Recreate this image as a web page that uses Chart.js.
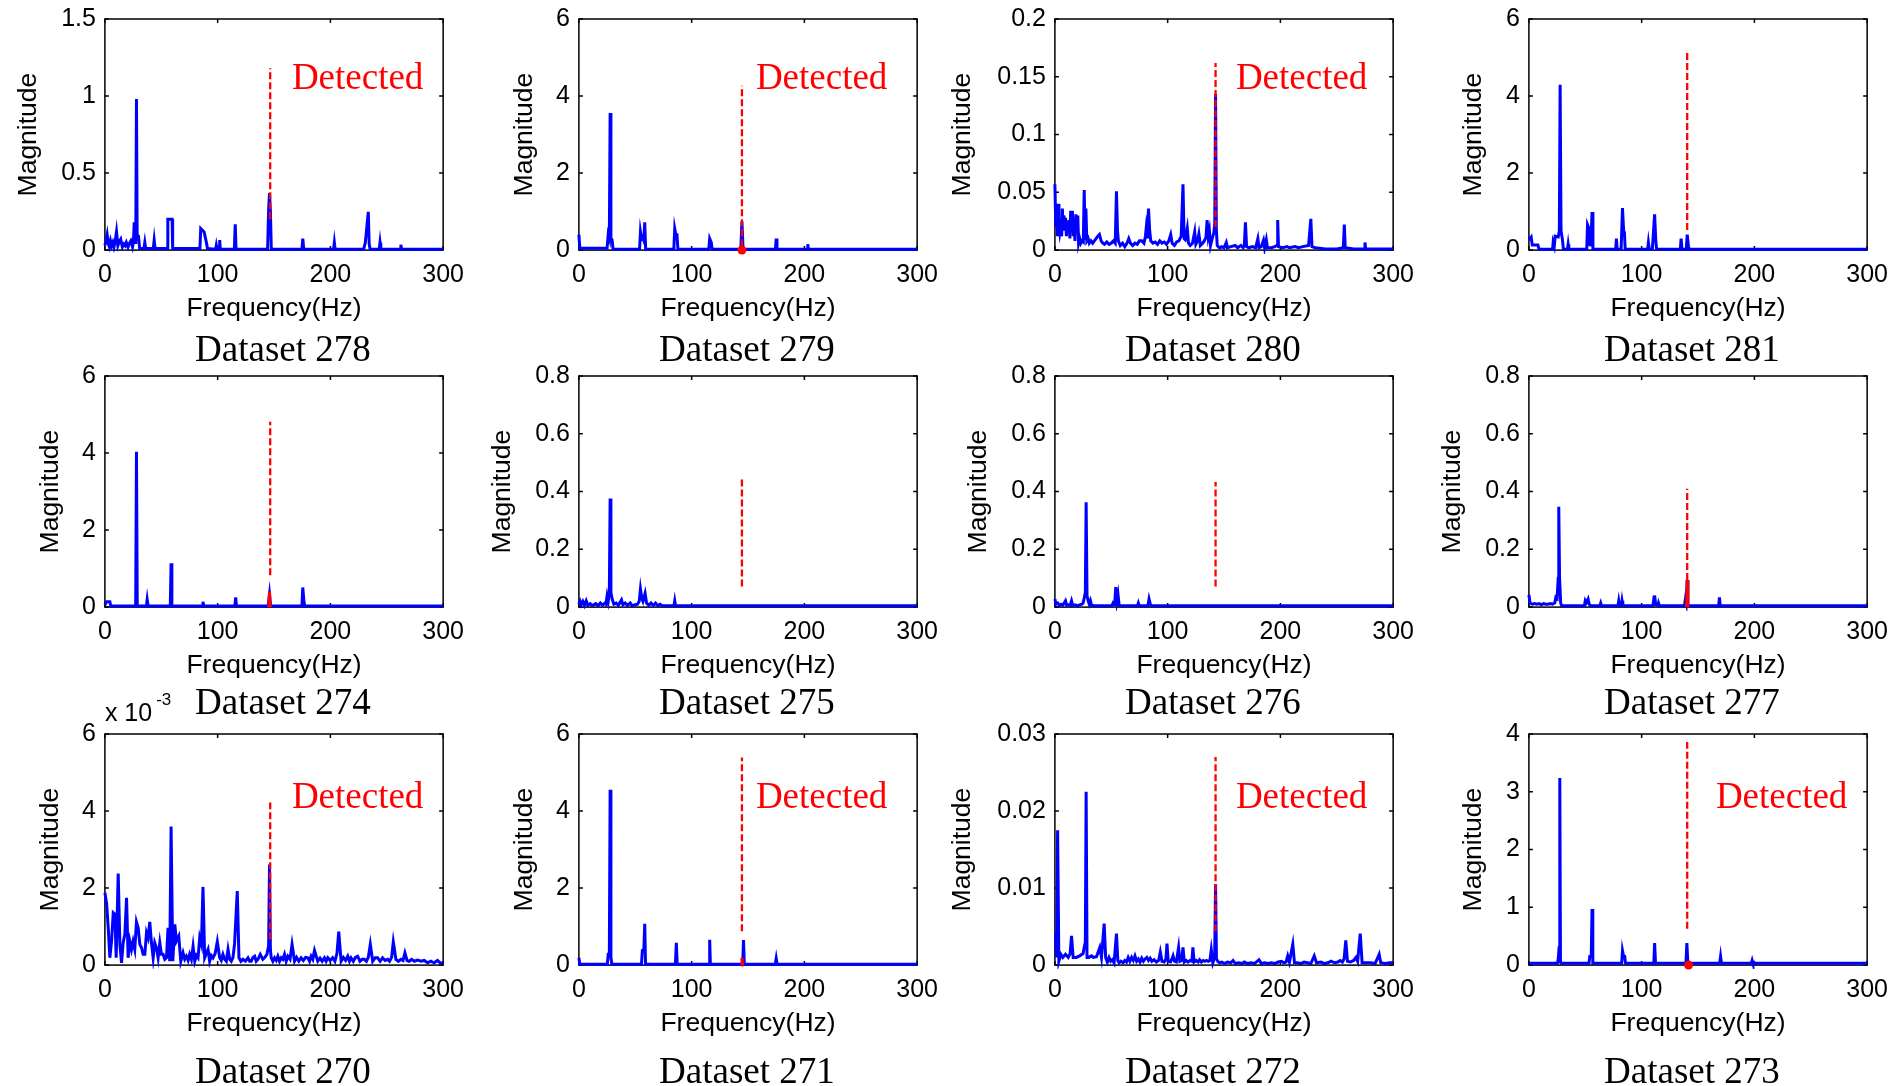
<!DOCTYPE html>
<html>
<head>
<meta charset="utf-8">
<script src="https://cdn.jsdelivr.net/npm/chart.js@4.4.1/dist/chart.umd.min.js"></script>
<style>
  html, body { margin: 0; padding: 0; background: #fff; width: 1895px; height: 1086px; overflow: hidden; }
  canvas { position: absolute; }
</style>
</head>
<body>
<script>
// ---------- spectra: [frequency (Hz), magnitude] ----------
const spec278 = [[0,0.03],[1,0.06],[2,0.1],[3,0.04],[4,0.02],[5,0.06],[6,0.03],[7,0.05],[8,0.02],[9,0.05],[10.3,0.12],[11.5,0.03],[12.5,0.05],[14,0.07],[15.5,0.02],[17,0.04],[18,0.03],[19,0.05],[20.5,0.02],[21.5,0.04],[23,0.06],[24.5,0.02],[25.3,0.05],[26,0.18],[26.8,0.05],[27.4,0.1],[28,0.98],[28.6,0.1],[29.8,0.09],[30.8,0.01],[34.6,0.01],[35.4,0.05],[36.2,0.01],[42.9,0.01],[43.7,0.065],[44.5,0.01],[55.3,0.01],[55.8,0.2],[59.6,0.2],[60.1,0.01],[84.3,0.01],[85,0.14],[88,0.118],[90,0.05],[91,0.01],[98.2,0.005],[98.8,0.03],[99.4,0.005],[101.2,0.005],[101.8,0.065],[102.4,0.005],[114.8,0.005],[115.6,0.168],[116.3,0.005],[144.3,0.005],[145.2,0.26],[146,0.37],[146.8,0.25],[147.6,0.005],[174.8,0.005],[175.5,0.075],[176.4,0.005],[202.8,0.005],[203.5,0.05],[204.2,0.005],[229.5,0.005],[231,0.05],[233.6,0.248],[234.4,0.04],[235.2,0.005],[243.3,0.005],[244,0.05],[244.7,0.005],[261.8,0.005],[262.5,0.035],[263.2,0.005],[300,0.005]];
const spec279 = [[0,0.4],[0.8,0.05],[25,0.05],[26,0.4],[27,0.3],[27.7,3.56],[28.4,0.3],[29.5,0.26],[30.3,0.02],[53.8,0.02],[54.6,0.47],[55.5,0.3],[56.3,0.34],[57.5,0.25],[58.4,0.72],[59.2,0.02],[84.2,0.02],[85,0.56],[86,0.4],[87,0.4],[87.8,0.02],[115.2,0.02],[116,0.3],[117.4,0.2],[118.2,0.02],[143.6,0.02],[144.6,0.75],[145.6,0.02],[174.3,0.02],[175,0.3],[175.7,0.02],[202.4,0.02],[203,0.15],[203.6,0.02],[300,0.02]];
const spec280 = [[0,0.057],[0.8,0.02],[1.5,0.03],[2.2,0.012],[3,0.04],[3.6,0.022],[4.4,0.015],[5.2,0.02],[6,0.012],[6.6,0.036],[7.3,0.018],[8,0.03],[8.8,0.02],[9.5,0.028],[10.2,0.012],[11,0.025],[11.8,0.015],[12.6,0.026],[13.3,0.01],[14,0.034],[14.8,0.022],[15.5,0.034],[16.3,0.012],[17,0.027],[17.8,0.008],[18.6,0.031],[19.5,0.02],[20.3,0.03],[21,0.006],[22,0.01],[23,0.006],[24,0.008],[25.2,0.007],[26,0.052],[26.8,0.01],[27.5,0.036],[28.3,0.008],[29.5,0.01],[30.5,0.006],[32,0.008],[33.5,0.006],[35,0.008],[36.5,0.01],[38,0.012],[39.5,0.0135],[41,0.008],[42.5,0.006],[44,0.005],[46,0.007],[48,0.005],[50,0.006],[52,0.008],[53.5,0.006],[54.6,0.051],[55.5,0.017],[56.3,0.008],[58,0.004],[60,0.006],[62,0.003],[64,0.006],[65.5,0.01],[67,0.006],[69,0.004],[71,0.006],[73,0.005],[75,0.008],[77,0.008],[79,0.006],[80.3,0.012],[81,0.019],[82,0.01],[83,0.036],[84,0.018],[85,0.008],[87,0.006],[89,0.007],[91,0.005],[93,0.008],[95,0.006],[97,0.007],[99,0.005],[101,0.008],[102.7,0.0135],[104,0.006],[106,0.004],[108,0.007],[110,0.008],[112,0.012],[113.6,0.057],[114.6,0.01],[115.6,0.009],[117.4,0.019],[118.5,0.006],[120,0.004],[122,0.006],[124,0.016],[125,0.005],[126.5,0.008],[127.7,0.014],[129,0.004],[131,0.006],[132.5,0.008],[134,0.011],[135,0.026],[136,0.012],[137,0.017],[138,0.004],[139.5,0.01],[141,0.015],[141.8,0.023],[142.5,0.135],[143.2,0.017],[144,0.004],[146,0.002],[148,0.003],[150,0.002],[152,0.0066],[153,0.002],[156,0.003],[160,0.004],[162,0.002],[165,0.004],[167,0.002],[168,0.004],[169,0.024],[170,0.003],[172,0.002],[175,0.003],[178,0.002],[180,0.01],[181,0.002],[183,0.003],[185,0.0086],[186,0.002],[187.5,0.009],[188.5,0.002],[192,0.002],[195,0.003],[197,0.004],[197.6,0.026],[198.3,0.003],[202,0.002],[206,0.003],[208,0.002],[213,0.003],[216,0.002],[220,0.003],[225,0.004],[227,0.027],[228,0.003],[231,0.002],[240,0.001],[250,0.001],[255.8,0.002],[256.7,0.022],[257.5,0.002],[265,0.001],[274.4,0.001],[275,0.0066],[275.6,0.001],[285,0.001],[300,0.001]];
const spec281 = [[0,0.34],[1,0.3],[2,0.34],[3,0.13],[8,0.13],[9,0.02],[21,0.02],[21.5,0.2],[22.5,0.1],[23.3,0.36],[26,0.34],[27,0.5],[27.7,4.29],[28.5,0.5],[29.8,0.26],[30.6,0.02],[34.2,0.02],[34.8,0.15],[35.4,0.02],[51.3,0.02],[52,0.66],[53.4,0.56],[54.2,0.1],[55.2,0.3],[56,0.99],[56.8,0.02],[77,0.02],[77.6,0.3],[78.3,0.02],[81.8,0.02],[83,1.09],[84,0.5],[84.7,0.46],[85.4,0.02],[105.3,0.02],[106,0.2],[106.8,0.02],[109.5,0.02],[111.5,0.93],[112.5,0.26],[113.3,0.02],[134.3,0.02],[135,0.3],[135.8,0.02],[139.6,0.02],[140.4,0.4],[141.5,0.1],[142.2,0.02],[300,0.02]];
const spec274 = [[0,0.05],[1.5,0.14],[4.4,0.14],[5.2,0.03],[27.3,0.03],[28,4.03],[28.7,0.03],[36.8,0.03],[37.5,0.2],[38.3,0.03],[58,0.03],[58.7,1.14],[59.4,0.03],[86.3,0.03],[87,0.14],[87.7,0.03],[115.3,0.03],[116,0.25],[116.7,0.03],[144.8,0.03],[146,0.33],[147,0.03],[174.8,0.03],[175.5,0.51],[176.5,0.15],[177.2,0.03],[300,0.03]];
const spec275 = [[0,0.01],[1,0.02],[2,0.008],[3.5,0.02],[5,0.006],[6.5,0.022],[8,0.006],[10,0.012],[12,0.005],[15,0.012],[17,0.005],[19,0.014],[21,0.006],[23,0.014],[24,0.01],[25,0.039],[26,0.02],[27,0.05],[27.7,0.376],[28.4,0.05],[29.5,0.028],[31,0.01],[33,0.014],[35,0.006],[37.8,0.025],[39,0.008],[41,0.014],[43,0.006],[45.5,0.014],[47,0.005],[50,0.008],[52,0.01],[53.5,0.02],[54.6,0.063],[55.8,0.03],[56.8,0.02],[58.7,0.048],[60,0.014],[62,0.006],[64,0.014],[66,0.005],[68,0.014],[70,0.005],[72,0.01],[74,0.005],[84.3,0.005],[85,0.022],[85.7,0.005],[300,0.005]];
const spec276 = [[0,0.028],[1,0.01],[2.5,0.014],[4,0.006],[5.5,0.01],[7,0.006],[8.5,0.016],[9.4,0.022],[10.5,0.006],[12,0.008],[13.5,0.006],[14.75,0.022],[15.8,0.006],[18,0.008],[20,0.004],[22,0.008],[24,0.01],[25,0.014],[26,0.031],[27,0.05],[27.7,0.363],[28.5,0.04],[29.5,0.022],[30.5,0.01],[31.5,0.022],[32.5,0.006],[35,0.005],[50.5,0.005],[51.6,0.014],[52.6,0.008],[53.3,0.03],[54,0.069],[55,0.02],[56,0.043],[57,0.006],[59,0.005],[73.3,0.005],[74,0.014],[74.7,0.005],[82.5,0.005],[83.5,0.028],[84.5,0.012],[85.5,0.005],[300,0.005]];
const spec277 = [[0,0.043],[1,0.014],[3,0.01],[5,0.012],[7,0.01],[9,0.012],[11,0.008],[13,0.012],[15,0.01],[17,0.01],[19,0.012],[21,0.01],[23,0.015],[23.9,0.034],[25,0.03],[26,0.1],[26.5,0.347],[27.2,0.1],[28.2,0.014],[29,0.005],[49.2,0.005],[50,0.022],[51,0.015],[52.5,0.028],[53.5,0.01],[54.5,0.005],[63,0.005],[63.7,0.014],[64.4,0.005],[79,0.005],[79.7,0.022],[80.4,0.005],[82,0.005],[82.6,0.022],[83.3,0.005],[110,0.005],[111,0.035],[111.5,0.04],[112.5,0.008],[114.5,0.005],[115,0.014],[115.8,0.005],[138,0.005],[139,0.033],[139.6,0.02],[140.4,0.094],[141,0.005],[168.3,0.005],[169,0.034],[169.7,0.005],[300,0.005]];
// magnitudes of dataset 270 are in units of 1e-3
const spec270 = [[0,1.88],[1.5,1.6],[2.95,0.97],[4.4,0.19],[5.9,0.62],[7.4,1.36],[8.85,1.32],[10,0.19],[11.8,2.38],[13.3,0.54],[14.75,0.06],[16.2,0.58],[17.7,0.8],[19.2,1.75],[20.6,0.19],[22.1,0.62],[23.6,0.41],[25,0.62],[26.5,0.41],[28,1.12],[29.5,0.97],[31,0.54],[32.5,0.45],[33.9,0.28],[35.4,0.28],[36.9,0.84],[38.3,0.71],[39.8,1.12],[41.3,0.58],[42.8,0.19],[44.2,0.58],[45.7,0.45],[47.2,0.19],[48.7,0.58],[50.1,0.28],[51.6,0.28],[53.1,0.15],[54.6,0.19],[56,0.97],[57.5,0.1],[58.7,3.6],[60.2,0.1],[62,1.06],[63.4,0.62],[65.5,0.75],[67.3,0.1],[69.3,0.32],[70.8,0.15],[72.3,0.23],[73.8,0.12],[75.2,0.28],[76.7,0.15],[78.2,0.49],[79.7,0.1],[81.2,0.25],[82.6,0.19],[84.1,0.71],[85.6,0.54],[87,2.03],[88.5,0.19],[90,0.3],[91.5,0.41],[92.9,0.1],[94.4,0.25],[95.9,0.19],[97.8,0.3],[99.7,0.61],[101.8,0.19],[103.2,0.12],[104.7,0.28],[106.2,0.15],[107.7,0.1],[109.2,0.41],[110.7,0.15],[112.1,0.1],[113.6,0.2],[115,0.55],[117.4,1.92],[118.9,0.19],[120.6,0.1],[122.4,0.15],[124.6,0.1],[126.9,0.19],[128.4,0.1],[129.8,0.1],[131.3,0.2],[132.8,0.23],[134.2,0.1],[135.7,0.15],[137.8,0.28],[140.1,0.15],[141.9,0.2],[143.7,0.28],[145.2,0.5],[146,2.61],[146.8,0.4],[147.5,0.19],[149,0.1],[150.5,0.19],[152,0.12],[153.4,0.23],[154.9,0.1],[156.4,0.19],[157.9,0.15],[159.3,0.28],[160.8,0.1],[162.3,0.23],[164.2,0.15],[166,0.54],[168.2,0.1],[170,0.2],[172,0.1],[174,0.19],[176,0.12],[178,0.2],[180,0.19],[181.5,0.1],[182.9,0.23],[184.4,0.15],[185.9,0.38],[188.8,0.1],[190.8,0.18],[192.7,0.1],[194.7,0.19],[196.2,0.1],[197.7,0.19],[199.8,0.12],[202,0.19],[204,0.1],[205.8,0.3],[207.4,0.87],[209.5,0.1],[211.5,0.2],[213.5,0.12],[215.4,0.23],[216.9,0.1],[218.3,0.19],[220.3,0.1],[222.2,0.2],[224.2,0.23],[226.2,0.1],[228.2,0.15],[230.1,0.15],[232,0.1],[233.6,0.2],[235.4,0.54],[237.5,0.1],[239.7,0.19],[241.9,0.19],[244.1,0.1],[246.3,0.19],[248.5,0.12],[250.8,0.15],[252.5,0.1],[254.3,0.2],[255.8,0.6],[258.1,0.15],[260.3,0.1],[262.6,0.15],[264.4,0.12],[266.1,0.32],[268,0.12],[269.9,0.1],[272,0.15],[274.4,0.1],[277.3,0.13],[280.3,0.1],[283.2,0.12],[286.2,0.06],[289,0.1],[292,0.06],[295,0.12],[297.5,0.05],[300,0.06]];
const spec271 = [[0,0.19],[0.8,0.02],[25.2,0.02],[26,0.28],[27,0.28],[27.7,4.55],[28.4,0.2],[29.2,0.02],[55.5,0.02],[56.3,0.38],[57.6,0.4],[58.4,1.07],[59.1,0.02],[85.6,0.02],[86.4,0.58],[87.2,0.02],[115.4,0.02],[116,0.66],[116.6,0.02],[145.3,0.02],[146,0.65],[146.7,0.02],[174.2,0.02],[175,0.17],[175.8,0.02],[300,0.02]];
const spec272 = [[0,0.004],[0.6,0.004],[1.5,0.001],[2.4,0.0175],[3.5,0.0005],[5.3,0.0014],[7,0.001],[9.4,0.0014],[11.8,0.001],[13.5,0.0015],[14.75,0.0038],[16.2,0.001],[19,0.001],[22,0.0012],[25,0.0015],[26,0.0023],[27,0.003],[27.7,0.0225],[28.5,0.001],[30,0.001],[32.5,0.0012],[34,0.001],[36.9,0.0011],[39.8,0.0023],[41.3,0.001],[43.7,0.0054],[45,0.001],[46.5,0.0004],[48,0.001],[49.5,0.0005],[51,0.0007],[52.5,0.0003],[54.6,0.0041],[55.8,0.0006],[57,0.0003],[58.5,0.0005],[60.5,0.0003],[62,0.0006],[63.5,0.0004],[65,0.001],[66.5,0.0005],[68,0.001],[69.5,0.0006],[71,0.0012],[72.5,0.0005],[74,0.0008],[75.5,0.0004],[77,0.0009],[78.5,0.0005],[80,0.0008],[81.5,0.001],[83,0.0006],[84.5,0.0009],[86,0.0005],[88,0.0007],[90,0.0004],[92,0.0006],[93.5,0.0017],[95,0.0005],[97,0.0004],[98.5,0.0008],[99.4,0.0028],[100.5,0.0005],[102.5,0.0004],[103.8,0.0008],[104.8,0.0012],[106,0.0005],[107.7,0.0004],[109.7,0.0023],[110.8,0.0005],[112.5,0.0006],[113.6,0.0023],[114.8,0.0004],[116.5,0.0006],[118,0.0004],[120,0.0006],[121.5,0.0005],[122.4,0.0023],[123.5,0.0004],[125.4,0.0006],[127,0.0004],[128.3,0.0007],[130,0.0004],[131.5,0.0006],[133,0.0005],[134.5,0.0006],[136,0.0005],[137.5,0.0006],[138.7,0.002],[140.1,0.0003],[141.7,0.001],[142.5,0.0105],[143.3,0.0008],[144.5,0.0005],[146,0.0003],[148,0.0004],[150.5,0.0002],[153,0.0004],[156,0.0003],[158,0.0006],[160,0.0002],[163,0.0003],[166,0.0002],[168,0.0004],[171,0.0002],[174,0.0003],[177,0.0002],[181,0.0007],[183,0.0002],[186,0.0003],[189,0.0002],[192,0.0003],[195,0.0002],[198,0.0004],[201,0.0005],[203,0.0003],[205,0.0004],[206.5,0.0012],[208,0.0004],[211,0.0027],[212.5,0.0003],[215,0.0003],[218,0.0002],[221,0.0004],[224,0.0003],[227,0.0002],[230,0.0012],[232,0.0003],[236,0.0004],[239,0.0002],[242,0.0003],[245,0.0005],[248,0.0003],[251,0.0004],[253,0.0006],[255,0.0004],[256.5,0.0008],[258,0.0032],[259.5,0.0005],[262,0.0004],[265,0.0006],[267,0.001],[268.5,0.0005],[270.8,0.0041],[272.5,0.0003],[276,0.0003],[280,0.0003],[284,0.0002],[287.6,0.0014],[289,0.0003],[293,0.0002],[297,0.0003],[300,0.0003]];
const spec273 = [[0,0.03],[25.3,0.03],[26,0.1],[26.8,0.3],[27.4,3.24],[28,0.05],[28.7,0.03],[53.3,0.03],[54,0.15],[55.3,0.15],[56,0.97],[56.7,0.03],[82.3,0.03],[83,0.25],[84,0.15],[85,0.15],[85.7,0.03],[110.8,0.03],[111.5,0.38],[112.3,0.03],[139.3,0.03],[140.1,0.38],[141,0.03],[169.2,0.03],[170,0.15],[170.8,0.03],[197.3,0.03],[198,0.08],[198.7,0.03],[300,0.03]];

// ---------- fault-frequency markers (dashed span, red peak, red point) ----------
const mark278 = [[146.6,0.2],[146.6,1.18]];
const mark279 = [[144.6,0.1],[144.6,4.27]];
const mark280 = [[142.5,0.02],[142.5,0.162]];
const mark281 = [[140.4,0.52],[140.4,5.17]];
const mark274 = [[146.6,0.83],[146.6,4.81]];
const mark275 = [[144.6,0.071],[144.6,0.447]];
const mark276 = [[142.5,0.071],[142.5,0.433]];
const mark277 = [[140.4,0.094],[140.4,0.41]];
const mark270 = [[146.6,0.67],[146.6,4.22]];
const mark271 = [[144.6,0.88],[144.6,5.39]];
const mark272 = [[142.5,0.0044],[142.5,0.027]];
const mark273 = [[140.4,0.63],[140.4,3.86]];
const redPeak274 = [[145.3,0],[146,0.4],[146.7,0]];
const redPeak277 = [[139.8,0],[140.4,0.094],[141,0]];
const redPeak271 = [[144,0],[144.6,0.19],[145.2,0]];
const redDot279 = [[144.6,0]];
const redDot273 = [[141.6,0]];

// ---------- panel definitions ----------
const DATASET_IDS = ['278','279','280','281','274','275','276','277','270','271','272','273'];
const SPECTRA   = [spec278, spec279, spec280, spec281, spec274, spec275, spec276, spec277, spec270, spec271, spec272, spec273];
const MARKS     = [mark278, mark279, mark280, mark281, mark274, mark275, mark276, mark277, mark270, mark271, mark272, mark273];
const RED_PEAKS = [null, null, null, null, redPeak274, null, null, redPeak277, null, redPeak271, null, null];
const RED_DOTS  = [null, redDot279, null, null, null, null, null, null, null, null, null, redDot273];
const Y_MAX     = [1.5, 6, 0.2, 6, 6, 0.8, 0.8, 0.8, 6, 6, 0.03, 4];
const Y_STEP    = [0.5, 2, 0.05, 2, 2, 0.2, 0.2, 0.2, 2, 2, 0.01, 1];
const DETECTED  = [true, true, true, false, false, false, false, false, true, true, true, true];
const EXPONENT  = [null, null, null, null, null, null, null, null, '-3', null, null, null];

// ---------- page layout ----------
const COL_LEFT = [105, 579, 1055, 1529];
const ROW_TOP = [19, 376, 734];
const PLOT_W = 339, PLOT_H = 232;
const YTITLE_GAP = [[76, 54, 92, 55], [54, 76, 76, 76], [54, 54, 92, 55]];
const CAPTION_DX = [178, 168, 158, 163];
const CAPTION_DY = [111, 107, 118];
const DETECTED_DX = [187, 177, 181, 187];
const DETECTED_DY = [70, 70, 74];
const PAD_TOP = 50, PAD_RIGHT = 30, PAD_BOTTOM = 60, XAXIS_H = 74;
const TICK_SIZE = 25, AXIS_TITLE_SIZE = 26.5;

const SANS = "'Liberation Sans', Arial, Helvetica, sans-serif";
const SERIF = "'Liberation Serif', 'Times New Roman', Times, serif";
const BLUE = '#0000ff', RED = '#ff0000';

// axes box with inward ticks plus the text annotations of each panel
const panelDecor = {
  id: 'panelDecor',
  beforeDatasetsDraw(chart) {
    const { ctx, chartArea: a, scales: { x, y } } = chart;
    const tl = 4;
    ctx.save();
    ctx.strokeStyle = '#000';
    ctx.lineWidth = 1.5;
    ctx.strokeRect(a.left, a.top, a.right - a.left, a.bottom - a.top);
    ctx.beginPath();
    x.ticks.forEach(t => {
      const px = x.getPixelForValue(t.value);
      ctx.moveTo(px, a.bottom); ctx.lineTo(px, a.bottom - tl);
      ctx.moveTo(px, a.top); ctx.lineTo(px, a.top + tl);
    });
    y.ticks.forEach(t => {
      const py = y.getPixelForValue(t.value);
      ctx.moveTo(a.left, py); ctx.lineTo(a.left + tl, py);
      ctx.moveTo(a.right, py); ctx.lineTo(a.right - tl, py);
    });
    ctx.stroke();
    ctx.restore();
  },
  afterDraw(chart, args, opts) {
    const { ctx, chartArea: a } = chart;
    ctx.save();
    ctx.textBaseline = 'alphabetic';
    if (opts.detected) {
      ctx.fillStyle = RED;
      ctx.font = '37px ' + SERIF;
      ctx.textAlign = 'left';
      ctx.fillText('Detected', a.left + opts.detDx, a.top + opts.detDy);
    }
    if (opts.exponent) {
      ctx.fillStyle = '#000';
      ctx.textAlign = 'left';
      ctx.font = TICK_SIZE + 'px ' + SANS;
      const base = 'x 10';
      ctx.fillText(base, a.left, a.top - 13);
      const w = ctx.measureText(base).width;
      ctx.font = '17px ' + SANS;
      ctx.fillText(opts.exponent, a.left + w + 4, a.top - 29);
    }
    ctx.fillStyle = '#000';
    ctx.font = '37px ' + SERIF;
    ctx.textAlign = 'center';
    ctx.fillText(opts.caption, a.left + opts.capDx, a.bottom + opts.capDy);
    ctx.restore();
  }
};

const fmtTick = v => String(+Number(v).toFixed(4));

DATASET_IDS.forEach((id, i) => {
  const row = Math.floor(i / 4), col = i % 4;
  const yScaleW = YTITLE_GAP[row][col] + AXIS_TITLE_SIZE * 0.6;
  const canvas = document.createElement('canvas');
  const cw = Math.round(yScaleW + PLOT_W + PAD_RIGHT);
  const ch = PAD_TOP + PLOT_H + XAXIS_H + PAD_BOTTOM;
  canvas.width = cw; canvas.height = ch;
  canvas.style.width = cw + 'px'; canvas.style.height = ch + 'px';
  canvas.style.left = (COL_LEFT[col] - yScaleW) + 'px';
  canvas.style.top = (ROW_TOP[row] - PAD_TOP) + 'px';
  document.body.appendChild(canvas);

  const datasets = [{
    data: MARKS[i], borderColor: RED, borderWidth: 2.3, borderDash: [7, 3],
    pointRadius: 0, fill: false, tension: 0, clip: 4
  }];
  if (RED_PEAKS[i]) datasets.push({
    data: RED_PEAKS[i], borderColor: RED, borderWidth: 3, pointRadius: 0, fill: false, tension: 0, clip: 4
  });
  if (RED_DOTS[i]) datasets.push({
    data: RED_DOTS[i], showLine: false, pointRadius: 4.5, pointBackgroundColor: RED, pointBorderWidth: 0, clip: 8
  });
  datasets.push({
    data: SPECTRA[i], borderColor: BLUE, borderWidth: 3, pointRadius: 0, fill: false, tension: 0, clip: 4
  });

  new Chart(canvas, {
    type: 'line',
    data: { datasets },
    options: {
      responsive: false,
      animation: false,
      events: [],
      layout: { padding: { top: PAD_TOP, right: PAD_RIGHT, bottom: PAD_BOTTOM, left: 0 } },
      plugins: {
        legend: { display: false },
        tooltip: { enabled: false },
        panelDecor: {
          caption: 'Dataset ' + id,
          capDx: CAPTION_DX[col], capDy: CAPTION_DY[row],
          detected: DETECTED[i], detDx: DETECTED_DX[col], detDy: DETECTED_DY[row],
          exponent: EXPONENT[i]
        }
      },
      scales: {
        x: {
          type: 'linear', min: 0, max: 300,
          grid: { display: false, drawTicks: false },
          border: { display: false },
          ticks: { stepSize: 100, padding: 10, color: '#000', autoSkip: false, maxRotation: 0,
                   font: { family: SANS, size: TICK_SIZE }, callback: fmtTick },
          title: { display: true, text: 'Frequency(Hz)', color: '#000', padding: 0,
                   font: { family: SANS, size: AXIS_TITLE_SIZE } },
          afterFit: s => { s.height = XAXIS_H + (AXIS_TITLE_SIZE - 25) * 0.6; }
        },
        y: {
          type: 'linear', min: 0, max: Y_MAX[i],
          grid: { display: false, drawTicks: false },
          border: { display: false },
          ticks: { stepSize: Y_STEP[i], padding: 9, color: '#000', autoSkip: false,
                   font: { family: SANS, size: TICK_SIZE }, callback: fmtTick },
          title: { display: true, text: 'Magnitude', color: '#000', padding: 0,
                   font: { family: SANS, size: AXIS_TITLE_SIZE } },
          afterFit: s => { s.width = yScaleW; }
        }
      }
    },
    plugins: [panelDecor]
  });
});
</script>
</body>
</html>
